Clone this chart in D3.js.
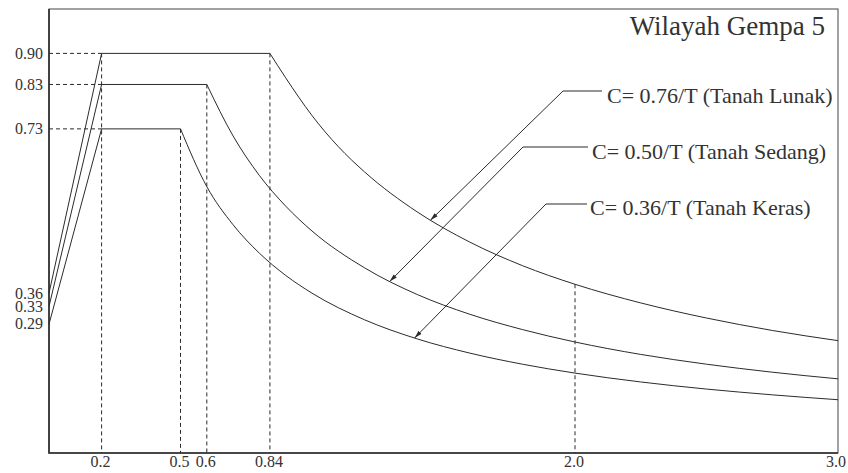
<!DOCTYPE html>
<html>
<head>
<meta charset="utf-8">
<script src="https://cdn.jsdelivr.net/npm/d3@7"></script>
<style>
  body { margin: 0; background: #fff; }
  svg text { font-family: "Liberation Serif", "Times New Roman", serif; fill: #333; }
</style>
</head>
<body>
<script>
// spectrum values
var tickT = [0.2, 0.5, 0.6, 0.84, 2.0, 3.0],
    tickLabels = ["0.2", "0.5", "0.6", "0.84", "2.0", "3.0"];
var yTicks = [0.90, 0.83, 0.73, 0.36, 0.33, 0.29],
    yLabels = ["0.90", "0.83", "0.73", "0.36", "0.33", "0.29"];

// ramp + plateau (T, C)
var lunakFlatT = [0, 0.2, 0.84], lunakFlatC = [0.36, 0.90, 0.90];
var sedangFlatT = [0, 0.2, 0.6], sedangFlatC = [0.33, 0.83, 0.83];
var kerasFlatT = [0, 0.2, 0.5], kerasFlatC = [0.29, 0.73, 0.73];

// descending branch (T, C)
var lunakT = [0.84, 0.9, 1.0, 1.1, 1.2, 1.4, 1.6, 1.8, 2.0, 2.25, 2.5, 2.75, 3.0],
    lunakC = [0.90, 0.845, 0.76, 0.69, 0.633, 0.543, 0.475, 0.422, 0.38, 0.338, 0.304, 0.276, 0.253];
var sedangT = [0.6, 0.7, 0.8, 0.9, 1.0, 1.2, 1.4, 1.6, 1.8, 2.0, 2.25, 2.5, 2.75, 3.0],
    sedangC = [0.83, 0.714, 0.625, 0.556, 0.50, 0.417, 0.357, 0.3125, 0.278, 0.25, 0.222, 0.20, 0.182, 0.167];
var kerasT = [0.5, 0.6, 0.7, 0.8, 0.9, 1.0, 1.2, 1.4, 1.6, 1.8, 2.0, 2.25, 2.5, 2.75, 3.0],
    kerasC = [0.73, 0.60, 0.514, 0.45, 0.40, 0.36, 0.30, 0.257, 0.225, 0.20, 0.18, 0.16, 0.144, 0.131, 0.12];

var labels = ["C= 0.76/T (Tanah Lunak)", "C= 0.50/T (Tanah Sedang)", "C= 0.36/T (Tanah Keras)"];
var tipT = [1.45, 1.295, 1.39],
    tipC = [0.524, 0.386, 0.259];
var title = "Wilayah Gempa 5";

var width = 848, height = 473;
var mLeft = 49, mRight = 838, mTop = 9, mBottom = 453;

var svg = d3.select("body").append("svg")
    .attr("width", width)
    .attr("height", height);

var x = d3.scaleLinear().domain([0, 3]).range([mLeft, mRight]);
var y = d3.scaleLinear().domain([0, 1]).range([mBottom, mTop]);

var ink = "#2b2b2b";

// arrow marker
svg.append("defs").append("marker")
    .attr("id", "arrow")
    .attr("viewBox", "0 -3 8 6")
    .attr("refX", 8).attr("refY", 0)
    .attr("markerWidth", 8).attr("markerHeight", 6)
    .attr("markerUnits", "userSpaceOnUse")
    .attr("orient", "auto")
    .append("path")
    .attr("d", "M0,-2.2L8,0L0,2.2Z")
    .attr("fill", ink);

// frame
svg.append("rect")
    .attr("x", mLeft).attr("y", mTop)
    .attr("width", mRight - mLeft).attr("height", mBottom - mTop)
    .attr("fill", "none").attr("stroke", "#444").attr("stroke-width", 1);
svg.append("path")
    .attr("d", "M" + mLeft + "," + mTop + "V" + mBottom + "H" + mRight)
    .attr("fill", "none").attr("stroke", ink).attr("stroke-width", 1.6);

// dashed guides
var dash = "4,3";
var hGuides = [0.90, 0.83, 0.73];
svg.selectAll(".hguide").data(hGuides).enter().append("line")
    .attr("class", "hguide")
    .attr("x1", x(0)).attr("x2", x(0.2))
    .attr("y1", function(d){ return y(d); }).attr("y2", function(d){ return y(d); })
    .attr("stroke", ink).attr("stroke-dasharray", dash);

var vGuideT = [0.2, 0.5, 0.6, 0.84, 2.0],
    vGuideC = [0.90, 0.73, 0.83, 0.90, 0.38];
svg.selectAll(".vguide").data(vGuideT).enter().append("line")
    .attr("class", "vguide")
    .attr("x1", function(d){ return x(d); }).attr("x2", function(d){ return x(d); })
    .attr("y1", function(d, i){ return y(vGuideC[i]); }).attr("y2", y(0))
    .attr("stroke", ink).attr("stroke-dasharray", dash);

// curves
var lin = d3.line().x(function(d){ return x(d[0]); }).y(function(d){ return y(d[1]); });
var smooth = d3.line().curve(d3.curveMonotoneX)
    .x(function(d){ return x(d[0]); }).y(function(d){ return y(d[1]); });

function pairs(a, b) { return a.map(function(v, i){ return [v, b[i]]; }); }

[[lunakFlatT, lunakFlatC], [sedangFlatT, sedangFlatC], [kerasFlatT, kerasFlatC]].forEach(function(s){
    svg.append("path").attr("d", lin(pairs(s[0], s[1])))
        .attr("fill", "none").attr("stroke", ink).attr("stroke-width", 1);
});
[[lunakT, lunakC], [sedangT, sedangC], [kerasT, kerasC]].forEach(function(s){
    svg.append("path").attr("d", smooth(pairs(s[0], s[1])))
        .attr("fill", "none").attr("stroke", ink).attr("stroke-width", 1);
});

// annotation leaders
var elbowX = [563, 523, 546], elbowY = [91, 147, 204],
    endX = [602, 588, 587], textX = [607, 592, 590], textY = [103, 159, 215];
labels.forEach(function(lab, i){
    var tx = x(tipT[i]), ty = y(tipC[i]);
    svg.append("path")
        .attr("d", "M" + endX[i] + "," + elbowY[i] + "H" + elbowX[i] + "L" + tx + "," + ty)
        .attr("fill", "none").attr("stroke", ink).attr("stroke-width", 1)
        .attr("marker-end", "url(#arrow)");
    svg.append("text")
        .attr("x", textX[i]).attr("y", textY[i])
        .attr("font-size", 22)
        .text(lab);
});

// y tick labels
var yOffset = [0, 0, 0, 0, 0, -1];
svg.selectAll(".ylab").data(yTicks).enter().append("text")
    .attr("class", "ylab")
    .attr("x", 43)
    .attr("y", function(d, i){ return y(d) + 5.5 + yOffset[i]; })
    .attr("text-anchor", "end")
    .attr("font-size", 16)
    .text(function(d, i){ return yLabels[i]; });

// x tick labels
svg.selectAll(".xlab").data(tickT).enter().append("text")
    .attr("class", "xlab")
    .attr("x", function(d, i){ return i == tickT.length - 1 ? x(d) - 2 : x(d) - 1; })
    .attr("y", 467)
    .attr("text-anchor", "middle")
    .attr("font-size", 16)
    .text(function(d, i){ return tickLabels[i]; });

// title
svg.append("text")
    .attr("x", 825).attr("y", 35)
    .attr("text-anchor", "end")
    .attr("font-size", 27)
    .text(title);
</script>
</body>
</html>
